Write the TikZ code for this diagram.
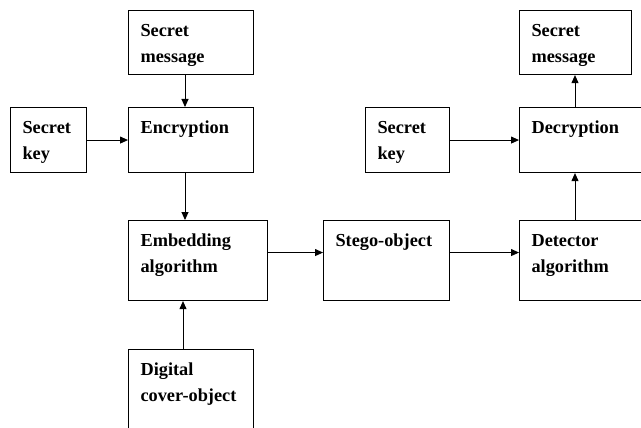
\documentclass[tikz,border=0pt]{standalone}
\usepackage{fontspec}
\setmainfont{Liberation Serif}
\usetikzlibrary{arrows.meta}
\newcommand\btxt[2]{\parbox[t]{#1}{\raggedright #2}}
\begin{document}
\begin{tikzpicture}[x=1pt,y=-1pt,
  box/.style={draw, line width=1.1pt, anchor=north west, inner xsep=12pt, inner ysep=0pt,
    text height=26pt, font=\fontsize{18.3pt}{26pt}\bfseries\selectfont},
  arr/.style={line width=0.9pt, -{Triangle[length=8pt,width=7pt]}}]
\fill[white] (0,0) rectangle (641,428);
\useasboundingbox (0,0) rectangle (641,428);
\clip (0,0) rectangle (641,428);

\node[box, text depth=38pt] (sm1)   at (128,10)  {\btxt{101pt}{Secret\\message}};
\node[box, text depth=39pt] (enc)   at (128,107) {\btxt{101pt}{Encryption}};
\node[box, text depth=39pt] (key1)  at (10,107)  {\btxt{52pt}{Secret\\key}};
\node[box, text depth=54pt] (emb)   at (128,220) {\btxt{115pt}{Embedding\\algorithm}};
\node[box, text depth=94pt] (dig)   at (128,349) {\btxt{101pt}{Digital\\cover-object}};
\node[box, text depth=54pt] (stego) at (323,220) {\btxt{102pt}{Stego-object}};
\node[box, text depth=54pt] (det)   at (519,220) {\btxt{116pt}{Detector\\algorithm}};
\node[box, text depth=39pt] (dec)   at (519,107) {\btxt{116pt}{Decryption}};
\node[box, text depth=38pt] (sm2)   at (519,10)  {\btxt{88pt}{Secret\\message}};
\node[box, text depth=39pt] (key2)  at (365,107) {\btxt{60pt}{Secret\\key}};

\draw[arr] ([xshift=57pt]sm1.south west) -- ([xshift=57pt]enc.north west);
\draw[arr] (key1.east) -- (enc.west);
\draw[arr] ([xshift=57pt]enc.south west) -- ([xshift=57pt]emb.north west);
\draw[arr] ([xshift=55pt]dig.north west) -- ([xshift=55pt]emb.south west);
\draw[arr] ([yshift=8pt]emb.east) -- ([yshift=8pt]stego.west);
\draw[arr] ([yshift=8pt]stego.east) -- ([yshift=8pt]det.west);
\draw[arr] ([xshift=56pt]det.north west) -- ([xshift=56pt]dec.south west);
\draw[arr] ([xshift=56pt]dec.north west) -- ([xshift=56pt]sm2.south west);
\draw[arr] (key2.east) -- (dec.west);
\end{tikzpicture}
\end{document}
